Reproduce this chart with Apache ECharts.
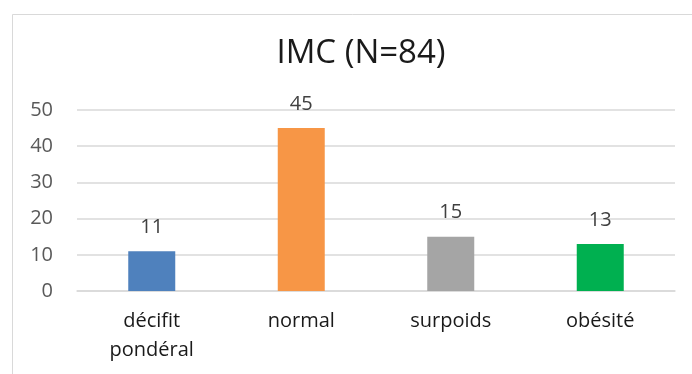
<!DOCTYPE html>
<html>
<head>
<meta charset="utf-8">
<script src="https://cdn.jsdelivr.net/npm/echarts@6/dist/echarts.min.js"></script>
<style>
html,body{margin:0;padding:0;background:#fff;}
#chart{width:692px;height:374px;}
</style>
</head>
<body>
<div id="chart"></div>
<script>
const titleText = "IMC (N=84)";
const categories = ["décifit\npondéral", "normal", "surpoids", "obésité"];
const values = [11, 45, 15, 13];
const barColors = ["#4f81bd", "#f79646", "#a5a5a5", "#00b050"];
const yTicks = [0, 10, 20, 30, 40, 50];

const FONT = "'Open Sans', 'Noto Sans', sans-serif";
const chart = echarts.init(document.getElementById('chart'), null, {renderer: 'canvas'});
chart.setOption({
  animation: false,
  backgroundColor: '#ffffff',
  graphic: [{
    type: 'rect',
    shape: {x: 12.5, y: 14.5, width: 720, height: 400},
    style: {fill: 'none', stroke: '#d9d9d9', lineWidth: 1},
    silent: true, z: -1
  }],
  title: {
    text: titleText,
    left: 356, top: 32,
    textAlign: 'center',
    textStyle: {fontFamily: FONT, fontSize: 33, fontWeight: 'normal', color: '#1a1a1a'}
  },
  grid: {left: 77, right: 17, top: 110, bottom: 83, containLabel: false},
  xAxis: {
    type: 'category',
    data: categories,
    axisLine: {show: true, lineStyle: {color: '#d9d9d9', width: 1.5}},
    axisTick: {show: false},
    axisLabel: {fontFamily: FONT, fontSize: 20, color: '#1a1a1a', margin: 16, lineHeight: 29}
  },
  yAxis: {
    type: 'value',
    min: yTicks[0], max: yTicks[yTicks.length - 1], interval: 10,
    axisLine: {show: false},
    axisTick: {show: false},
    splitLine: {lineStyle: {color: '#d9d9d9', width: 1.5}},
    axisLabel: {fontFamily: FONT, fontSize: 20, color: '#595959', margin: 24}
  },
  series: [{
    type: 'bar',
    data: values.map((v, i) => ({value: v, itemStyle: {color: barColors[i]}})),
    barWidth: 47,
    label: {show: true, position: 'top', distance: 14, fontFamily: FONT, fontSize: 20, color: '#404040'}
  }]
});
</script>
</body>
</html>
